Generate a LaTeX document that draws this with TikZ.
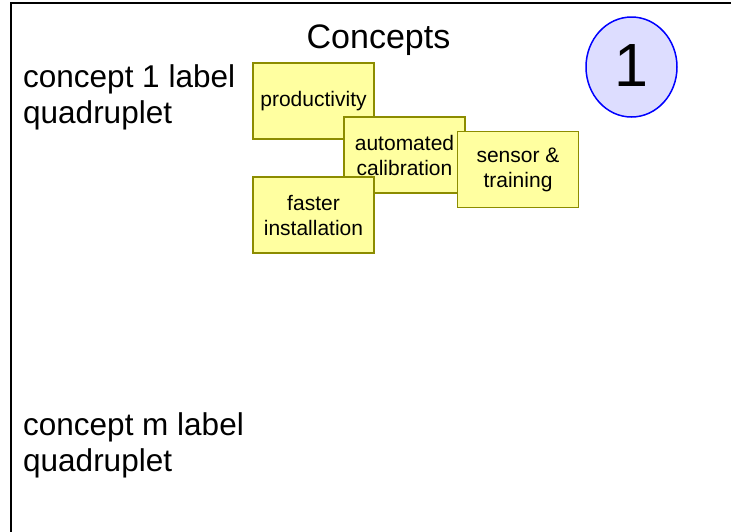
\documentclass[tikz,border=0pt]{standalone}
\usepackage{fontspec}
\setmainfont{Liberation Sans}
\usetikzlibrary{shapes.geometric}
\definecolor{notefill}{RGB}{255,255,160}
\definecolor{noteedge}{RGB}{140,140,0}
\definecolor{badgefill}{RGB}{221,221,255}
\definecolor{badgeedge}{RGB}{0,0,255}
\tikzset{
  note/.style={draw=noteedge, fill=notefill, line width=1.5pt, rectangle,
    minimum width=121pt, minimum height=76pt, inner sep=0pt, align=center,
    font=\fontsize{21}{25}\selectfont},
  rowlabel/.style={anchor=base west, inner sep=0pt, align=left,
    font=\fontsize{31.5}{36}\selectfont},
  frameline/.style={line width=2pt, black}
}
\begin{document}
\begin{tikzpicture}[x=1pt, y=-1pt]
  \useasboundingbox (0,0) rectangle (731,531);
  % outer frame: top and left edges
  \coordinate (ftl) at (10.5,3);
  \coordinate (ftr) at (732,3);
  \coordinate (fbl) at (10.5,532);
  \draw[frameline] (ftr) -- (ftl) -- (fbl);
  % heading and badge
  \node[anchor=base, inner sep=0pt, font=\fontsize{34}{40}\selectfont] (title) at (378.5,48) {Concepts};
  \node[ellipse, draw=badgeedge, fill=badgefill, line width=1.5pt,
        minimum width=91pt, minimum height=100pt, inner sep=0pt] (badge) at (631.5,67) {};
  \node[anchor=base, inner sep=0pt, font=\fontsize{61}{70}\selectfont] (badgenum) at (631,86) {1};
  % row labels (base anchor sits on the last line)
  \node[rowlabel] (row1) at (23,123) {concept 1 label\\quadruplet};
  \node[rowlabel] (rowm) at (23,471) {concept m label\\quadruplet};
  % concept notes, drawn back to front
  \node[note] (prod) at (313.5,101) {productivity};
  \node[note] (calib) at (404.5,155) {automated\\calibration};
  \node[note] (sensor) at (518,169.5) {sensor \&\\training};
  \node[note] (install) at (313.5,215) {faster\\installation};
\end{tikzpicture}
\end{document}
